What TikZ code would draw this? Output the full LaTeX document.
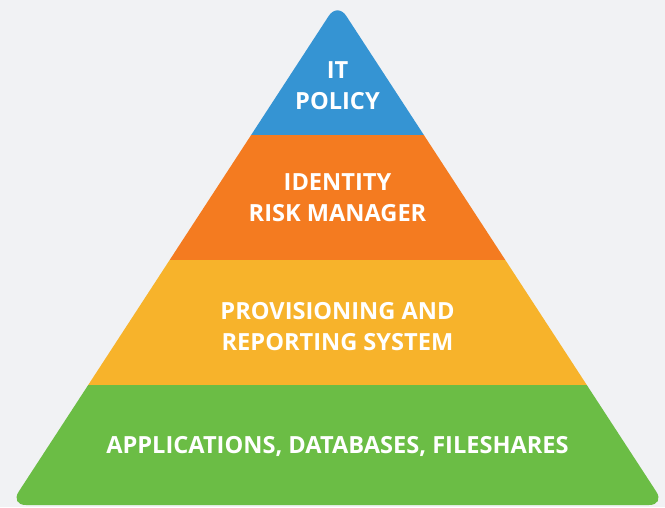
\documentclass[tikz,border=0pt]{standalone}
\usepackage{fontspec}
\setmainfont{Open Sans}
\definecolor{bgcol}{HTML}{F1F2F4}
\definecolor{policyblue}{HTML}{3594D3}
\definecolor{riskorange}{HTML}{F47B20}
\definecolor{provyellow}{HTML}{F7B32B}
\definecolor{appgreen}{HTML}{6BBD45}
\tikzset{
  layertext/.style={text=white, font=\fontsize{23.6}{31}\selectfont\bfseries, align=center}
}
\begin{document}
\begin{tikzpicture}[x=1pt,y=1pt]

    % --- Canvas ---
    \fill[bgcol] (0,0) rectangle (665,507);
    \useasboundingbox (0,0) rectangle (665,507);

    % --- Coordinates ---
    % Corners of the pyramid
    \coordinate (T) at (337.5,504.5);  % apex
    \coordinate (L) at (10,2);         % bottom-left
    \coordinate (R) at (665,2);        % bottom-right
    \coordinate (M) at (337.5,2);      % middle of base

    % --- Layers ---
    \begin{scope}
        \clip[rounded corners=16pt] (M) -- (R) -- (T) -- (L) -- cycle;
        \fill[appgreen]   (0,0)   rectangle (665,122);
        \fill[provyellow] (0,122) rectangle (665,247);
        \fill[riskorange] (0,247) rectangle (665,372);
        \fill[policyblue] (0,372) rectangle (665,507);
    \end{scope}

    % --- Labels ---
    \node[layertext] (policy) at (337.5,421) {IT\\POLICY};
    \node[layertext] (risk)   at (337.5,309.5) {IDENTITY\\RISK MANAGER};
    \node[layertext] (prov)   at (337.5,180)   {PROVISIONING AND\\REPORTING SYSTEM};
    \node[layertext] (apps)   at (337.5,61)    {APPLICATIONS, DATABASES, FILESHARES};

\end{tikzpicture}
\end{document}
